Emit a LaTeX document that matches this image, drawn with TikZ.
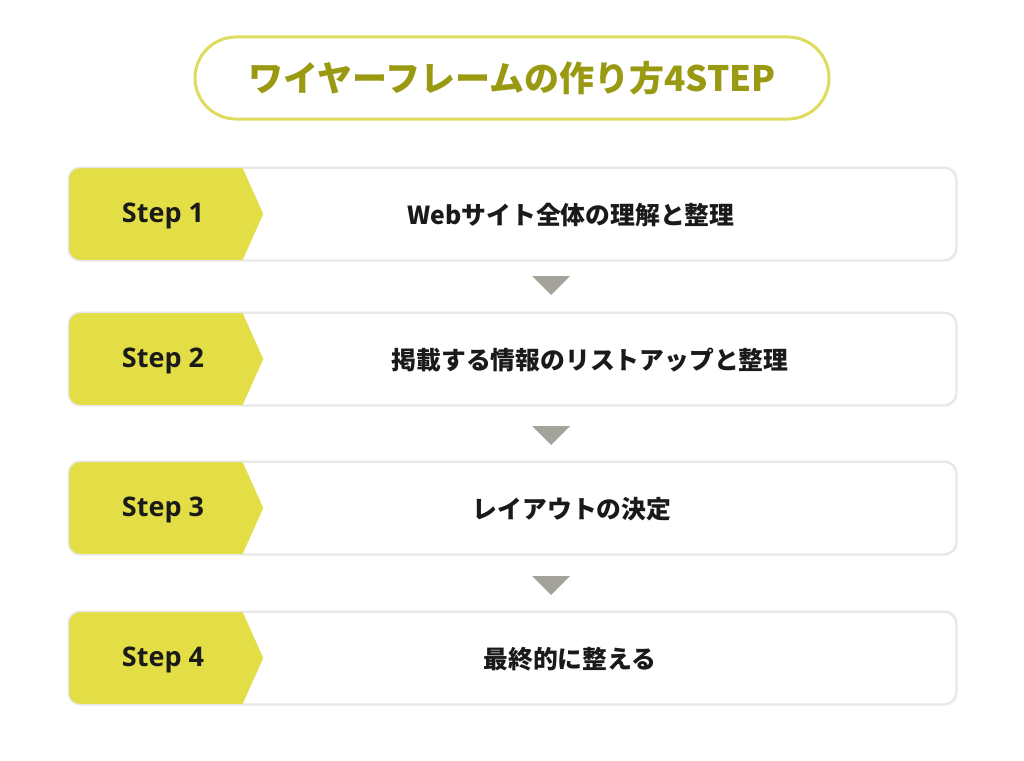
\documentclass[tikz,border=0pt]{standalone}
\usepackage{fontspec}
\setmainfont{Open Sans}
\newfontfamily\jp{Noto Sans CJK JP}
\definecolor{stepyellow}{HTML}{E3DE45}
\definecolor{titleline}{HTML}{DEDC5C}
\definecolor{titletext}{HTML}{9A9A12}
\definecolor{boxline}{HTML}{E8E8E8}
\definecolor{arrowgray}{HTML}{A3A29B}
\definecolor{ink}{HTML}{1A1A1A}
\tikzset{
  stepbox/.style={draw=boxline, line width=1.5pt, rounded corners=12pt, fill=white,
    minimum width=887pt, minimum height=92pt, inner sep=0pt},
  steplabel/.style={text=ink, font=\bfseries\fontsize{27}{27}\selectfont, inner sep=0pt},
  steptext/.style={text=ink, font=\jp\bfseries\fontsize{24.8}{24.8}\selectfont, inner sep=0pt},
}
\begin{document}
\begin{tikzpicture}[x=1pt,y=-1pt]
\useasboundingbox (0,0) rectangle (1024,760);
\fill[white] (0,0) rectangle (1024,760);
% title
\node[draw=titleline, line width=3pt, rounded corners=41pt, minimum width=634pt, minimum height=82pt,
  text=titletext, font=\jp\bfseries\fontsize{35}{35}\selectfont] (title) at (512,78) {ワイヤーフレームの作り方4STEP};
% steps
\foreach \i/\y/\tx/\txt in {1/214/571/Webサイト全体の理解と整理, 2/359/590/掲載する情報のリストアップと整理, 3/508/572/レイアウトの決定, 4/658/570/最終的に整える}{
  \node[stepbox] (box\i) at (512.5,\y) {};
  \begin{scope}
    \clip[rounded corners=12pt] (box\i.north west) rectangle (box\i.south east);
    \fill[stepyellow] (box\i.north west) -- ([xshift=174pt]box\i.north west) -- ([xshift=195pt]box\i.west)
      -- ([xshift=174pt]box\i.south west) -- (box\i.south west) -- cycle;
  \end{scope}
  \draw[boxline, line width=1.5pt, rounded corners=12pt] (box\i.north west) rectangle (box\i.south east);
  \node[steplabel] (lab\i) at (163,\y+1.5) {Step \i};
  \node[steptext] (txt\i) at (\tx,\y+1) {\txt};
}
% down triangles
\foreach \a/\yy in {1/276, 2/426, 3/576}{
  \coordinate (t\a) at (551,\yy);
  \fill[arrowgray] ([xshift=-19pt]t\a) -- ([xshift=19pt]t\a) -- ([yshift=-19pt]t\a) -- cycle;
}
\end{tikzpicture}
\end{document}
